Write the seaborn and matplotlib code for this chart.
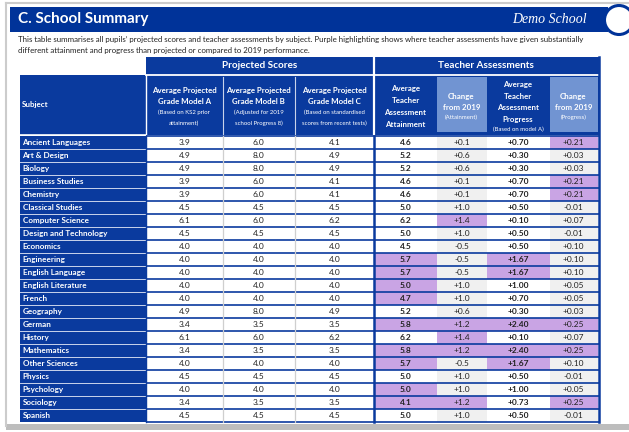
import numpy as np
import matplotlib
matplotlib.use("Agg")
import matplotlib.pyplot as plt
from matplotlib.colors import ListedColormap
from matplotlib.patches import Rectangle, Circle
import seaborn as sns

# ---------------- data ----------------
subjects = ["Ancient Languages", "Art & Design", "Biology", "Business Studies", "Chemistry",
            "Classical Studies", "Computer Science", "Design and Technology", "Economics",
            "Engineering", "English Language", "English Literature", "French", "Geography",
            "German", "History", "Mathematics", "Other Sciences", "Physics", "Psychology",
            "Sociology", "Spanish"]
model_a = [3.9, 4.9, 4.9, 3.9, 3.9, 4.5, 6.1, 4.5, 4.0, 4.0, 4.0, 4.0, 4.0, 4.9, 3.4, 6.1, 3.4, 4.0, 4.5, 4.0, 3.4, 4.5]
model_b = [6.0, 8.0, 8.0, 6.0, 6.0, 4.5, 6.0, 4.5, 4.0, 4.0, 4.0, 4.0, 4.0, 8.0, 3.5, 6.0, 3.5, 4.0, 4.5, 4.0, 3.5, 4.5]
model_c = [4.1, 4.9, 4.9, 4.1, 4.1, 4.5, 6.2, 4.5, 4.0, 4.0, 4.0, 4.0, 4.0, 4.9, 3.5, 6.2, 3.5, 4.0, 4.5, 4.0, 3.5, 4.5]
ta_attain = [4.6, 5.2, 5.2, 4.6, 4.6, 5.0, 6.2, 5.0, 4.5, 5.7, 5.7, 5.0, 4.7, 5.2, 5.8, 6.2, 5.8, 5.7, 5.0, 5.0, 4.1, 5.0]
chg_attain = [0.1, 0.6, 0.6, 0.1, 0.1, 1.0, 1.4, 1.0, -0.5, -0.5, -0.5, 1.0, 1.0, 0.6, 1.2, 1.4, 1.2, -0.5, 1.0, 1.0, 1.2, 1.0]
ta_progress = [0.70, 0.30, 0.30, 0.70, 0.70, 0.50, 0.10, 0.50, 0.50, 1.67, 1.67, 1.00, 0.70, 0.30, 2.40, 0.10, 2.40, 1.67, 0.50, 1.00, 0.73, 0.50]
chg_progress = [0.21, 0.03, 0.03, 0.21, 0.21, -0.01, 0.07, -0.01, 0.10, 0.10, 0.10, 0.05, 0.05, 0.03, 0.25, 0.07, 0.25, 0.10, -0.01, 0.05, 0.25, -0.01]

# purple highlighted subjects (row indices) per teacher-assessment column
hl_ta_attain = [9, 10, 11, 12, 14, 16, 17, 19, 20]
hl_chg_attain = [6, 14, 15, 16, 20]
hl_ta_progress = [9, 10, 14, 16, 17]
hl_chg_progress = [0, 3, 4, 14, 16, 20]

# ---------------- style ----------------
W, H = 629, 432
BLUE = "#0a3a9e"
LIGHT = "#7194d2"
PURPLE = "#c9a4e4"
GRAY = "#f0f0f0"
TXT = "#222222"
FONT = "Lato"
plt.rcParams["font.family"] = [FONT, "DejaVu Sans"]

fig = plt.figure(figsize=(W / 100, H / 100), dpi=100)
bg = fig.add_axes([0, 0, 1, 1])
bg.set_xlim(0, W); bg.set_ylim(H, 0); bg.axis("off")


def pax(x0, y0, x1, y1, **kw):
    return fig.add_axes([x0 / W, 1 - y1 / H, (x1 - x0) / W, (y1 - y0) / H], **kw)


# panel frame
bg.plot([6, 6], [3, 426], color="#cccccc", lw=1.5)
bg.plot([6, W], [3, 3], color="#cccccc", lw=1.5)
bg.add_patch(Rectangle((6, 424), W, 6, color="#bdbdbd", lw=0))

# title bar
bg.add_patch(Rectangle((10, 7), 598, 25, color="#003399", lw=0))
bg.add_patch(Circle((619, 20), 14.5, fc="white", ec="#003399", lw=2.2))
bg.text(18, 19.5, "C. School Summary", color="white", fontsize=11, fontweight="bold",
        va="center", ha="left")
bg.text(549, 19.5, "Demo School", color="white", fontsize=10, style="italic",
        family=["Liberation Serif", "DejaVu Serif"], va="center", ha="center")
bg.text(18, 39.5, "This table summarises all pupils\u2019 projected scores and teacher assessments by subject. "
        "Purple highlighting shows where teacher assessments have given substantially",
        fontsize=5.7, color=TXT, va="center", ha="left")
bg.text(18, 50.5, "different attainment and progress than projected or compared to 2019 performance.",
        fontsize=5.7, color=TXT, va="center", ha="left")

# column geometry
xs = [20, 146, 222.5, 295, 374, 437, 487, 549.5, 598]
TOP, BOT = 136, 422
n = len(subjects)
rh = (BOT - TOP) / n

# header blocks
bg.add_patch(Rectangle((146, 57), 599.5 - 146, 135 - 57, color=BLUE, lw=0))
bg.add_patch(Rectangle((20, 75), 126, 60, color=BLUE, lw=0))
bg.plot([146, 600], [75, 75], color="white", lw=1.3)
bg.plot([146, 146], [75, 135], color="white", lw=1.0)
bg.plot([374, 374], [57, 135], color="white", lw=1.6)
for xx in (222.5, 295):
    bg.plot([xx, xx], [77, 134], color="#c8d2ea", lw=0.8)
bg.plot([20, 146], [135.2, 135.2], color="white", lw=1.2)
for (a, b) in ((437, 486.5), (550, 597.5)):
    bg.add_patch(Rectangle((a, 77), b - a, 55, color=LIGHT, lw=0))

bg.text(260, 65, "Projected Scores", color="white", fontsize=7.2, fontweight="bold", ha="center", va="center")
bg.text(486, 65, "Teacher Assessments", color="white", fontsize=7.2, fontweight="bold", ha="center", va="center")
bg.text(22, 105, "Subject", color="white", fontsize=5.8, fontweight="bold", ha="left", va="center")

hb = dict(color="white", fontsize=5.7, fontweight="bold", ha="center", va="center")
hs = dict(color="white", fontsize=4.3, ha="center", va="center")
col_heads = [
    ((146 + 222.5) / 2, ["Average Projected", "Grade Model A"], ["(Based on KS2 prior", "attainment)"]),
    ((222.5 + 295) / 2, ["Average Projected", "Grade Model B"], ["(Adjusted for 2019", "school Progress 8)"]),
    ((295 + 374) / 2, ["Average Projected", "Grade Model C"], ["(Based on standardised", "scores from recent tests)"]),
]
for cx, big, small in col_heads:
    bg.text(cx, 90, big[0], **hb)
    bg.text(cx, 101.5, big[1], **hb)
    bg.text(cx, 112.5, small[0], **hs)
    bg.text(cx, 123, small[1], **hs)
for i, s in enumerate(["Average", "Teacher", "Assessment", "Attainment"]):
    bg.text(405.5, 89 + i * 11.7, s, **hb)
for cx, sub in ((461.5, "(Attainment)"), (573.5, "(Progress)")):
    bg.text(cx, 96, "Change", **hb)
    bg.text(cx, 107.3, "from 2019", **hb)
    bg.text(cx, 117.5, sub, **hs)
for i, s in enumerate(["Average", "Teacher", "Assessment", "Progress"]):
    bg.text(518, 84.5 + i * 11.6, s, **hb)
bg.text(518, 129.5, "(Based on model A)", **hs)

# ---------------- cells via seaborn heatmaps ----------------
cmap = ListedColormap(["white", GRAY, PURPLE, BLUE])

columns = [
    (model_a, "{:.1f}", None, 0, "normal"),
    (model_b, "{:.1f}", None, 0, "normal"),
    (model_c, "{:.1f}", None, 0, "normal"),
    (ta_attain, "{:.1f}", hl_ta_attain, 0, "bold"),
    (chg_attain, "{:+.1f}", hl_chg_attain, 1, "normal"),
    (ta_progress, "{:+.2f}", hl_ta_progress, 0, "bold"),
    (chg_progress, "{:+.2f}", hl_chg_progress, 1, "normal"),
]

# subject column
ax = pax(xs[0], TOP, xs[1], BOT)
sns.heatmap(np.full((n, 1), 3), ax=ax, cmap=cmap, vmin=-0.5, vmax=3.5, cbar=False,
            xticklabels=False, yticklabels=False)
ax.axis("off")
for i, s in enumerate(subjects):
    ax.text(0.02, i + 0.5, s, color="white", fontsize=5.9, fontweight="bold", ha="left", va="center")

for k, (vals, fmt, hl, base, weight) in enumerate(columns):
    codes = np.full((n, 1), base)
    if hl:
        codes[hl, 0] = 2
    labels = np.array([[fmt.format(v)] for v in vals])
    ax = pax(xs[k + 1], TOP, xs[k + 2], BOT)
    sns.heatmap(codes, ax=ax, cmap=cmap, vmin=-0.5, vmax=3.5, cbar=False, annot=labels, fmt="",
                annot_kws=dict(fontsize=6.0, color=TXT, fontweight=weight),
                xticklabels=False, yticklabels=False)
    ax.axis("off")

# ---------------- grid lines overlay ----------------
ov = fig.add_axes([0, 0, 1, 1], zorder=10)
ov.set_xlim(0, W); ov.set_ylim(H, 0); ov.axis("off"); ov.patch.set_alpha(0)
for i in range(n + 1):
    y = TOP + i * rh
    ov.plot([146, 599], [y, y], color=BLUE, lw=1.2, solid_capstyle="butt")
    if 0 < i < n:
        ov.plot([20, 146], [y, y], color="#c9d3ec", lw=0.7)
for xx in (222.5, 295):
    ov.plot([xx, xx], [TOP, BOT], color="#cfcfcf", lw=0.9)
ov.plot([374, 374], [TOP, BOT], color=BLUE, lw=1.8)
ov.plot([598.5, 598.5], [57, BOT], color=BLUE, lw=1.8)
ov.plot([146, 146], [TOP, BOT], color=BLUE, lw=1.0)

fig.savefig("out.png", dpi=100)
